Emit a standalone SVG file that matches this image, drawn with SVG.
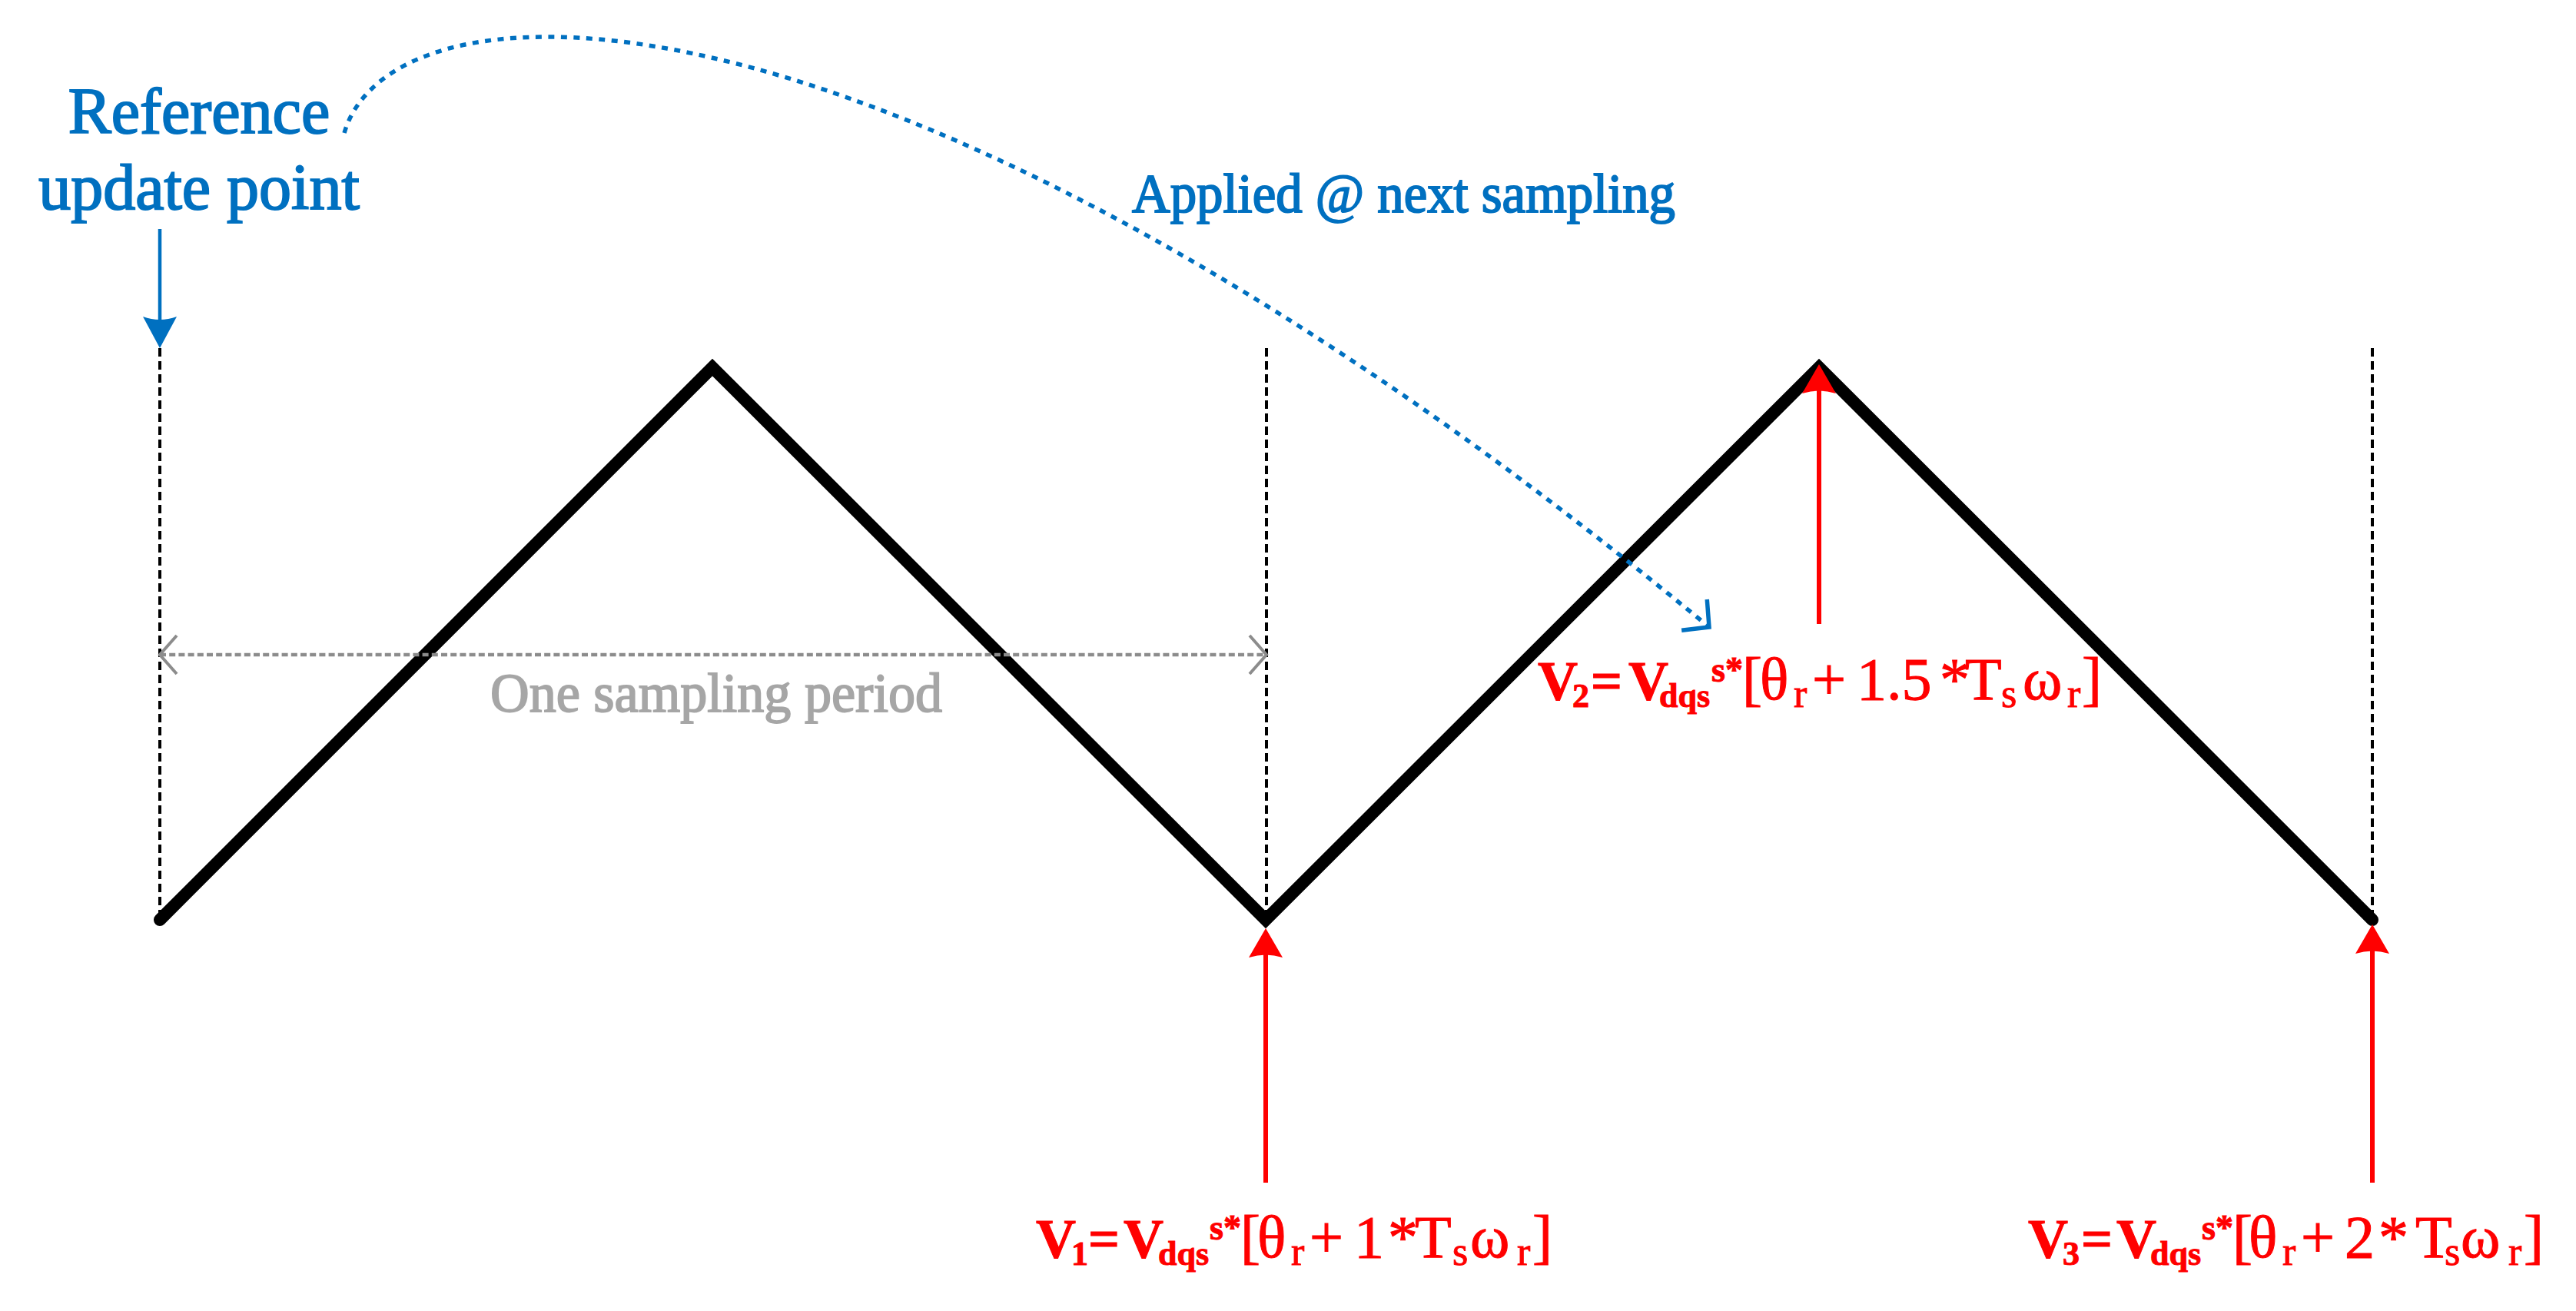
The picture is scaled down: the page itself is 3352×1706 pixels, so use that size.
<svg xmlns="http://www.w3.org/2000/svg" width="3352" height="1706" viewBox="0 0 3352 1706">
<style>
  .wave{fill:none;stroke:#000;stroke-width:16;stroke-linejoin:miter;stroke-linecap:round}
  .guide{fill:none;stroke:#000;stroke-width:4;stroke-dasharray:11 6}
  .blue{font-family:"Liberation Serif","DejaVu Serif",serif;fill:#0070C0;stroke:#0070C0;stroke-width:2}
  .gray{font-family:"Liberation Serif","DejaVu Serif",serif;fill:#A6A6A6;stroke:#A6A6A6;stroke-width:1.8}
  .f{font-family:"Liberation Serif","DejaVu Serif",serif;fill:#FF0000;stroke:#FF0000;stroke-width:1}
  .b{font-weight:bold;font-size:72px}
  .bs{font-weight:bold;font-size:44px}
  .bp{font-weight:bold;font-size:46px}
  .r{font-size:78px}
  .rs{font-size:52px}
  .redline{fill:none;stroke:#FF0000;stroke-width:6}
  .blueline{fill:none;stroke:#0070C0;stroke-width:4.5}
  .curve{fill:none;stroke:#0070C0;stroke-width:5.5;stroke-dasharray:8 8.5}
  .span{fill:none;stroke:#8C8C8C;stroke-width:4.5;stroke-dasharray:8 4.2}
</style>
<defs>
  <marker id="redHead" markerUnits="userSpaceOnUse" viewBox="-44 -24 48 48" markerWidth="48" markerHeight="48" refX="-10" refY="0" orient="auto">
    <path d="M0,0 L-38,-22 Q-31,0 -38,22 Z" fill="#FF0000"/>
  </marker>
  <marker id="blueHead" markerUnits="userSpaceOnUse" viewBox="-44 -24 48 48" markerWidth="48" markerHeight="48" refX="-10" refY="0" orient="auto">
    <path d="M0,0 L-41,-22 Q-33,0 -41,22 Z" fill="#0070C0"/>
  </marker>
  <marker id="blueOpen" markerUnits="userSpaceOnUse" viewBox="-40 -32 46 64" markerWidth="46" markerHeight="64" refX="0" refY="0" orient="auto">
    <path d="M-25,-26 L0,0 L-25,26" fill="none" stroke="#0070C0" stroke-width="5.5"/>
  </marker>
  <marker id="grayOpen" markerUnits="userSpaceOnUse" viewBox="-30 -30 36 60" markerWidth="36" markerHeight="60" refX="0" refY="0" orient="auto-start-reverse">
    <path d="M-22,-25 L0,0 L-22,25" fill="none" stroke="#8C8C8C" stroke-width="4"/>
  </marker>
</defs>
<rect width="3352" height="1706" fill="#fff"/>

<g id="guides">
  <line class="guide" x1="208" y1="453" x2="208" y2="1200"/>
  <line class="guide" x1="1648" y1="453" x2="1648" y2="1200"/>
  <line class="guide" x1="3087" y1="453" x2="3087" y2="1200"/>
</g>

<g id="wave">
  <polyline class="wave" points="208,1197 927,478 1647,1197 2367,478 3087,1197"/>
</g>

<g id="connectors">
  <path id="update-arrow" class="blueline" d="M208,298 L208,443" marker-end="url(#blueHead)"/>
  <path id="apply-curve" class="curve" d="M448,173 C510,-40 1150,-70 2224,816" marker-end="url(#blueOpen)"/>
  <path id="period-span" class="span" d="M208,852 L1648,852" marker-start="url(#grayOpen)" marker-end="url(#grayOpen)"/>
  <path id="v1-arrow" class="redline" d="M1647,1539 L1647,1218" marker-end="url(#redHead)"/>
  <path id="v2-arrow" class="redline" d="M2367,812 L2367,484" marker-end="url(#redHead)"/>
  <path id="v3-arrow" class="redline" d="M3087,1539 L3087,1213" marker-end="url(#redHead)"/>
</g>

<g id="label-reference">
  <text class="blue" font-size="84" text-anchor="middle" x="259" y="173">Reference</text>
  <text class="blue" font-size="84" text-anchor="middle" x="259" y="272">update point</text>
</g>

<g id="label-applied">
  <text class="blue" font-size="72" x="1473" y="276" textLength="707" lengthAdjust="spacingAndGlyphs">Applied @ next sampling</text>
</g>

<g id="label-period">
  <text class="gray" font-size="72" x="638" y="926" textLength="588" lengthAdjust="spacingAndGlyphs">One sampling period</text>
</g>

<g id="label-v1">
  <text class="f" y="1636"><tspan class="b" x="1348">V</tspan><tspan class="bs" x="1394" y="1646">1</tspan><tspan class="b" x="1416" y="1636">=</tspan><tspan class="b" x="1462">V</tspan><tspan class="bs" x="1507" y="1646">dqs</tspan><tspan class="bp" x="1574" y="1613">s*</tspan><tspan class="r" x="1614" y="1636">[</tspan><tspan class="r" x="1636">θ</tspan><tspan class="rs" x="1680" y="1646">r</tspan><tspan class="r" x="1704" y="1636">+</tspan><tspan class="r" x="1762">1</tspan><tspan class="r" x="1806">*</tspan><tspan class="r" x="1841">T</tspan><tspan class="rs" x="1890" y="1646">s</tspan><tspan class="r" x="1913" y="1636">ω</tspan><tspan class="rs" x="1974" y="1646">r</tspan><tspan class="r" x="1994" y="1636">]</tspan></text>
</g>

<g id="label-v2">
  <text class="f" y="910"><tspan class="b" x="2001">V</tspan><tspan class="bs" x="2046" y="920">2</tspan><tspan class="b" x="2070" y="910">=</tspan><tspan class="b" x="2119">V</tspan><tspan class="bs" x="2159" y="920">dqs</tspan><tspan class="bp" x="2227" y="887">s*</tspan><tspan class="r" x="2267" y="910">[</tspan><tspan class="r" x="2290">θ</tspan><tspan class="rs" x="2334" y="920">r</tspan><tspan class="r" x="2358" y="910">+</tspan><tspan class="r" x="2416">1.5</tspan><tspan class="r" x="2524">*</tspan><tspan class="r" x="2557">T</tspan><tspan class="rs" x="2604" y="920">s</tspan><tspan class="r" x="2632" y="910">ω</tspan><tspan class="rs" x="2690" y="920">r</tspan><tspan class="r" x="2709" y="910">]</tspan></text>
</g>

<g id="label-v3">
  <text class="f" y="1636"><tspan class="b" x="2639">V</tspan><tspan class="bs" x="2684" y="1646">3</tspan><tspan class="b" x="2708" y="1636">=</tspan><tspan class="b" x="2754">V</tspan><tspan class="bs" x="2798" y="1646">dqs</tspan><tspan class="bp" x="2865" y="1613">s*</tspan><tspan class="r" x="2905" y="1636">[</tspan><tspan class="r" x="2926">θ</tspan><tspan class="rs" x="2970" y="1646">r</tspan><tspan class="r" x="2994" y="1636">+</tspan><tspan class="r" x="3051">2</tspan><tspan class="r" x="3095">*</tspan><tspan class="r" x="3143">T</tspan><tspan class="rs" x="3181" y="1646">s</tspan><tspan class="r" x="3202" y="1636">ω</tspan><tspan class="rs" x="3264" y="1646">r</tspan><tspan class="r" x="3284" y="1636">]</tspan></text>
</g>
</svg>
